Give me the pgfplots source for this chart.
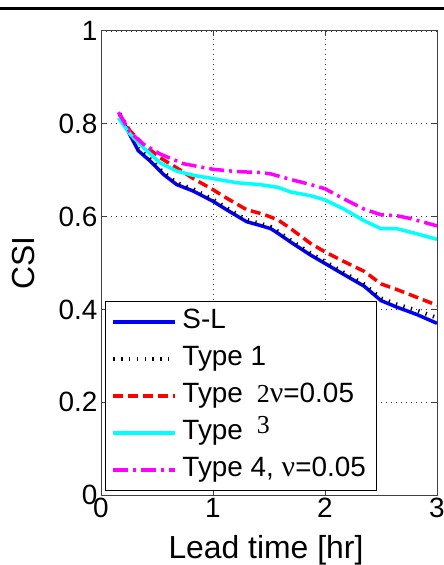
\documentclass[border=0pt]{standalone}
\usepackage{fontspec}
\setmainfont{Liberation Sans}
\newfontfamily\serif{Liberation Serif}
\usepackage{pgfplots}
\pgfplotsset{compat=1.18}
\definecolor{mblue}{rgb}{0,0,1}
\definecolor{mred}{rgb}{1,0,0}
\definecolor{mcyan}{rgb}{0,1,1}
\definecolor{mmag}{rgb}{1,0,1}

\pgfplotstableread{
x y
0.167 0.820
0.25 0.780
0.333 0.742
0.438 0.720
0.557 0.691
0.676 0.669
0.824 0.655
1.0 0.633
1.12 0.615
1.30 0.589
1.42 0.581
1.516 0.574
1.58 0.564
1.694 0.545
1.872 0.517
2.0 0.499
2.17 0.475
2.35 0.450
2.50 0.419
2.64 0.405
2.82 0.389
3.0 0.370
}\sl
\pgfplotstableread{
x y
0.167 0.822
0.25 0.784
0.333 0.746
0.438 0.724
0.557 0.695
0.676 0.673
0.824 0.659
1.0 0.637
1.12 0.619
1.30 0.593
1.42 0.585
1.516 0.578
1.58 0.568
1.694 0.549
1.872 0.521
2.0 0.503
2.17 0.479
2.35 0.454
2.50 0.424
2.64 0.411
2.82 0.398
3.0 0.382
}\typeone
\pgfplotstableread{
x y
0.167 0.820
0.259 0.785
0.378 0.756
0.527 0.727
0.676 0.705
0.824 0.682
1.0 0.658
1.12 0.640
1.30 0.615
1.45 0.605
1.58 0.593
1.694 0.574
1.872 0.542
2.0 0.524
2.17 0.503
2.35 0.482
2.50 0.455
2.64 0.443
2.82 0.426
3.0 0.409
}\typetwo
\pgfplotstableread{
x y
0.155 0.813
0.259 0.778
0.378 0.749
0.527 0.716
0.676 0.698
0.824 0.689
1.0 0.682
1.21 0.673
1.42 0.669
1.58 0.663
1.694 0.653
1.872 0.645
2.0 0.636
2.17 0.616
2.35 0.591
2.50 0.574
2.64 0.574
2.82 0.563
3.0 0.551
}\typethree
\pgfplotstableread{
x y
0.155 0.825
0.259 0.782
0.378 0.756
0.527 0.735
0.735 0.714
1.0 0.702
1.21 0.697
1.42 0.695
1.516 0.692
1.694 0.680
1.872 0.669
2.0 0.660
2.17 0.638
2.35 0.616
2.50 0.604
2.64 0.602
2.76 0.596
3.0 0.580
}\typefour

\newcommand{\sd}[1]{{\serif\fontsize{26}{28}\selectfont #1}}
\newcommand{\snu}{{\serif\fontsize{30}{32}\selectfont ν}}

\begin{document}
\begin{tikzpicture}
\useasboundingbox (0,0) rectangle (444bp,565bp);
\draw[line width=2.7bp] (0,556.3bp) -- (444bp,556.3bp);
\begin{axis}[
  at={(101bp,70bp)}, anchor=south west,
  scale only axis, width=336bp, height=464bp,
  xmin=0, xmax=3, ymin=0, ymax=1,
  xtick={0,1,2,3}, xticklabels={0,1,2,3},
  ytick={0,0.2,0.4,0.6,0.8,1}, yticklabels={0,0.2,0.4,0.6,0.8,1},
  /pgf/number format/assume math mode=true,
  tick label style={font=\fontsize{28}{30}\selectfont},
  label style={font=\fontsize{32}{36}\selectfont},
  xlabel={Lead time [hr]}, ylabel={CSI},
  xlabel style={at={(axis description cs:0.491,-0.1365)}, anchor=base},
  ylabel style={at={(axis description cs:-0.2307,0.5)}, anchor=center},
  axis line style={black!75, line width=1bp},
  tick style={black!75, line width=1bp},
  tick align=inside, tick pos=both, major tick length=5bp,
  grid=major,
  major grid style={black!80, line width=0.8bp, dash pattern=on 1bp off 4bp},
  legend image code/.code={\draw[#1] (0bp,0bp) -- (62bp,0bp);},
  legend style={at={(0.0119,0.418)}, anchor=north west, draw=black, line width=1bp,
    fill=white, inner xsep=6bp, inner ysep=2bp, row sep=0pt,
    font=\fontsize{28}{30}\selectfont,
    nodes={inner ysep=5bp, text height=20bp, text depth=7bp, inner xsep=5bp}},
  legend cell align=left,
]
\addplot[mblue, line width=3.5bp] table {\sl};
\addlegendentry{S-L}
\addplot[black, line width=4bp, dash pattern=on 1.3bp off 6.5bp] table {\typeone};
\addlegendentry{Type 1}
\addplot[mred, line width=3.5bp, dash pattern=on 10bp off 5bp] table {\typetwo};
\addlegendentry{Type\hspace{14bp}\sd{2}\snu=0.05}
\addplot[mcyan, line width=3.5bp] table {\typethree};
\addlegendentry{Type\hspace{14bp}\raisebox{6bp}{\sd{3}}}
\addplot[mmag, line width=3.5bp, dash pattern=on 15bp off 5bp on 3bp off 5bp] table {\typefour};
\addlegendentry{Type 4, \snu=0.05}
\end{axis}
\end{tikzpicture}
\end{document}
